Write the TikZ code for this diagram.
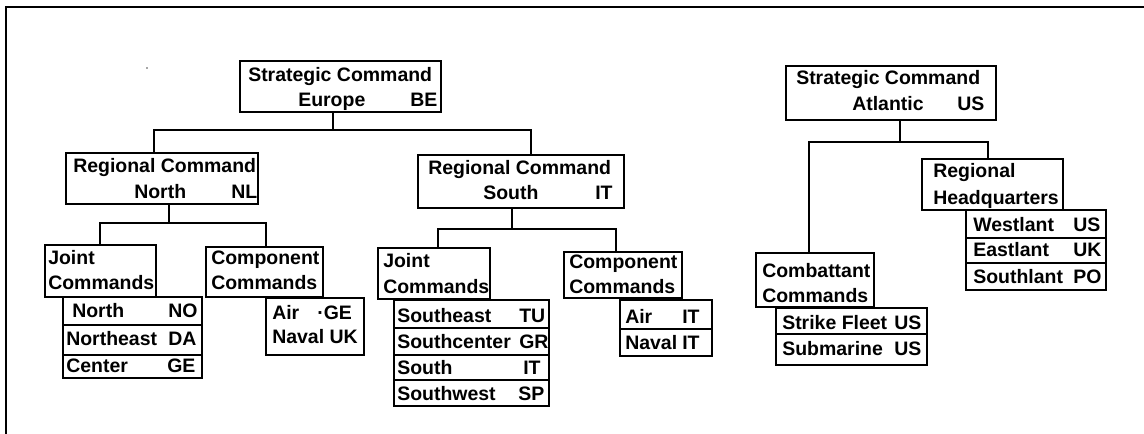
\documentclass[tikz,border=0pt]{standalone}
\usepackage{fontspec}
\setmainfont{Liberation Sans}
\usetikzlibrary{fit}
\tikzset{
  box/.style={draw, line width=1.1pt, inner sep=0pt},
  txt/.style={anchor=base west, inner sep=0pt, font=\bfseries\fontsize{14.6}{17}\selectfont},
  link/.style={line width=1.1pt},
}
\newcommand\orgbox[5]{\node[box, fit={(#2,#3) (#4,#5)}] (#1) {};}
\newcommand\orgtxt[4]{\node[txt] (#1) at (#2,#3) {#4};}
\begin{document}
\begin{tikzpicture}[x=0.75pt,y=-0.75pt]
\useasboundingbox (0,0) rectangle (1144,434);
% frame
\draw[line width=1.6pt] (6,434) -- (6,7) -- (1144,7);
\fill[black!70] (147,68) circle (0.9);

% ---------- boxes ----------
\orgbox{se}{240}{61}{441}{112}
\orgbox{rcn}{66}{153}{258}{204}
\orgbox{rcs}{418}{155}{624}{208}
\orgbox{jn}{45}{245}{156}{297}
\orgbox{nl1}{63}{297}{202}{325}
\orgbox{nl2}{63}{325}{202}{355}
\orgbox{nl3}{63}{355}{202}{378}
\orgbox{cn}{206}{247}{323}{297}
\orgbox{cnl}{266}{298}{364}{355}
\orgbox{js}{378}{248}{490}{299}
\orgbox{sl1}{394}{300}{549}{328}
\orgbox{sl2}{394}{328}{549}{355}
\orgbox{sl3}{394}{355}{549}{380}
\orgbox{sl4}{394}{380}{549}{406}
\orgbox{cs}{564}{252}{682}{298}
\orgbox{csl1}{620}{300}{712}{329}
\orgbox{csl2}{620}{329}{712}{356}
\orgbox{sa}{786}{66}{996}{120}
\orgbox{rhq}{922}{159}{1063}{210}
\orgbox{hq1}{966}{210}{1106}{238}
\orgbox{hq2}{966}{238}{1106}{263}
\orgbox{hq3}{966}{263}{1106}{290}
\orgbox{cb}{756}{253}{874}{307}
\orgbox{cbl1}{776}{308}{927}{334}
\orgbox{cbl2}{776}{334}{927}{365}

% ---------- connectors ----------
\coordinate (c1) at (333,130);
\coordinate (c1l) at (154,130);
\coordinate (c1r) at (531,130);
\draw[link] (se.south -| c1) -- (c1);
\draw[link] (rcn.north -| c1l) -- (c1l) -- (c1r) -- (rcs.north -| c1r);

\coordinate (c2) at (169,223);
\coordinate (c2l) at (100,223);
\coordinate (c2r) at (266,223);
\draw[link] (rcn.south -| c2) -- (c2);
\draw[link] (jn.north -| c2l) -- (c2l) -- (c2r) -- (cn.north -| c2r);

\coordinate (c3) at (512,229);
\coordinate (c3l) at (438,229);
\coordinate (c3r) at (616,229);
\draw[link] (rcs.south -| c3) -- (c3);
\draw[link] (js.north -| c3l) -- (c3l) -- (c3r) -- (cs.north -| c3r);

\coordinate (c4) at (900,142);
\coordinate (c4l) at (809,142);
\coordinate (c4r) at (988,142);
\draw[link] (sa.south -| c4) -- (c4);
\draw[link] (cb.north -| c4l) -- (c4l) -- (c4r) -- (rhq.north -| c4r);

% ---------- texts ----------
\orgtxt{se1}{248}{82}{Strategic Command}
\orgtxt{se2}{298}{107}{Europe}
\orgtxt{se3}{410}{107}{BE}

\orgtxt{rcn1}{73}{173}{Regional Command}
\orgtxt{rcn2}{134}{199}{North}
\orgtxt{rcn3}{231}{199}{NL}

\orgtxt{rcs1}{428}{175}{Regional Command}
\orgtxt{rcs2}{483}{200}{South}
\orgtxt{rcs3}{595}{200}{IT}

\orgtxt{jn1}{48}{265}{Joint}
\orgtxt{jn2}{48}{290}{Commands}
\orgtxt{nt1}{72}{317}{North}
\orgtxt{nc1}{168}{317}{NO}
\orgtxt{nt2}{66}{345}{Northeast}
\orgtxt{nc2}{168}{345}{DA}
\orgtxt{nt3}{66}{372}{Center}
\orgtxt{nc3}{167}{372}{GE}

\orgtxt{cn1}{211}{265}{Component}
\orgtxt{cn2}{211}{290}{Commands}
\orgtxt{ct1}{272}{319}{Air}
\orgtxt{cc1}{317}{319}{·GE}
\orgtxt{ct2}{272}{343}{Naval UK}

\orgtxt{js1}{383}{268}{Joint}
\orgtxt{js2}{383}{294}{Commands}
\orgtxt{st1}{397}{322}{Southeast}
\orgtxt{sc1}{519}{322}{TU}
\orgtxt{st2}{397}{348}{Southcenter}
\orgtxt{sc2}{519}{348}{GR}
\orgtxt{st3}{397}{374}{South}
\orgtxt{sc3}{523}{374}{IT}
\orgtxt{st4}{397}{400}{Southwest}
\orgtxt{sc4}{518}{400}{SP}

\orgtxt{cs1}{569}{269}{Component}
\orgtxt{cs2}{569}{294}{Commands}
\orgtxt{kt1}{625}{323}{Air}
\orgtxt{kc1}{682}{323}{IT}
\orgtxt{kt2}{625}{349}{Naval}
\orgtxt{kc2}{682}{349}{IT}

\orgtxt{sa1}{796}{85}{Strategic Command}
\orgtxt{sa2}{852}{111}{Atlantic}
\orgtxt{sa3}{957}{111}{US}

\orgtxt{rhq1}{933}{178}{Regional}
\orgtxt{rhq2}{933}{205}{Headquarters}
\orgtxt{ht1}{973}{232}{Westlant}
\orgtxt{hc1}{1073}{232}{US}
\orgtxt{ht2}{973}{257}{Eastlant}
\orgtxt{hc2}{1073}{257}{UK}
\orgtxt{ht3}{973}{283}{Southlant}
\orgtxt{hc3}{1073}{283}{PO}

\orgtxt{cb1}{762}{277}{Combattant}
\orgtxt{cb2}{762}{302}{Commands}
\orgtxt{bt1}{782}{329}{Strike Fleet}
\orgtxt{bc1}{894}{329}{US}
\orgtxt{bt2}{782}{355}{Submarine}
\orgtxt{bc2}{894}{355}{US}
\end{tikzpicture}
\end{document}
